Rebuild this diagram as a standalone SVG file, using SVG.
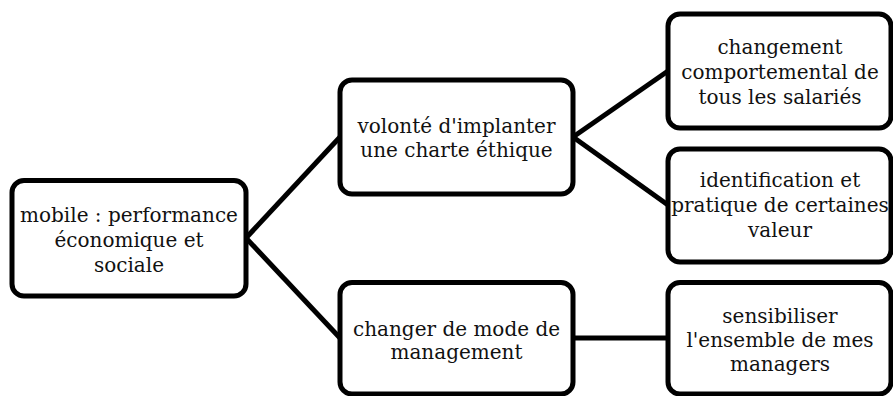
<svg xmlns="http://www.w3.org/2000/svg" width="893" height="396" viewBox="0 0 893 396">
<style>
.box{fill:#fff;stroke:#000;stroke-width:5}
.lbl{font-family:"DejaVu Serif","Liberation Serif",serif;font-size:20px;fill:#111;text-anchor:middle}
.conn{stroke:#000;stroke-width:5;fill:none;stroke-linecap:butt}
</style>
<rect width="893" height="396" fill="#fff"/>
<g id="connectors">
<line class="conn" x1="246" y1="238" x2="340" y2="137"/>
<line class="conn" x1="246" y1="238" x2="340" y2="338"/>
<line class="conn" x1="573" y1="137" x2="668" y2="71"/>
<line class="conn" x1="573" y1="137" x2="668" y2="205"/>
<line class="conn" x1="573" y1="338" x2="668" y2="338"/>
</g>
<g id="root">
<rect class="box" x="12" y="180.5" width="234" height="115.5" rx="12"/>
<text class="lbl" x="129" y="222">mobile : performance</text>
<text class="lbl" x="129" y="247">économique et</text>
<text class="lbl" x="129" y="272">sociale</text>
</g>
<g id="charte">
<rect class="box" x="340" y="80" width="233" height="114" rx="12"/>
<text class="lbl" x="456.5" y="133">volonté d'implanter</text>
<text class="lbl" x="456.5" y="157">une charte éthique</text>
</g>
<g id="management">
<rect class="box" x="340" y="282.5" width="233" height="111.5" rx="12"/>
<text class="lbl" x="456.5" y="336">changer de mode de</text>
<text class="lbl" x="456.5" y="359">management</text>
</g>
<g id="comportement">
<rect class="box" x="668" y="14" width="223" height="114" rx="12"/>
<text class="lbl" x="780" y="54">changement</text>
<text class="lbl" x="780" y="79">comportemental de</text>
<text class="lbl" x="780" y="104">tous les salariés</text>
</g>
<g id="valeurs">
<rect class="box" x="668" y="149" width="223" height="113" rx="12"/>
<text class="lbl" x="780" y="187">identification et</text>
<text class="lbl" x="780" y="212">pratique de certaines</text>
<text class="lbl" x="780" y="237">valeur</text>
</g>
<g id="managers">
<rect class="box" x="668" y="282.5" width="223" height="111.5" rx="12"/>
<text class="lbl" x="780" y="323">sensibiliser</text>
<text class="lbl" x="780" y="347">l'ensemble de mes</text>
<text class="lbl" x="780" y="371">managers</text>
</g>
</svg>
